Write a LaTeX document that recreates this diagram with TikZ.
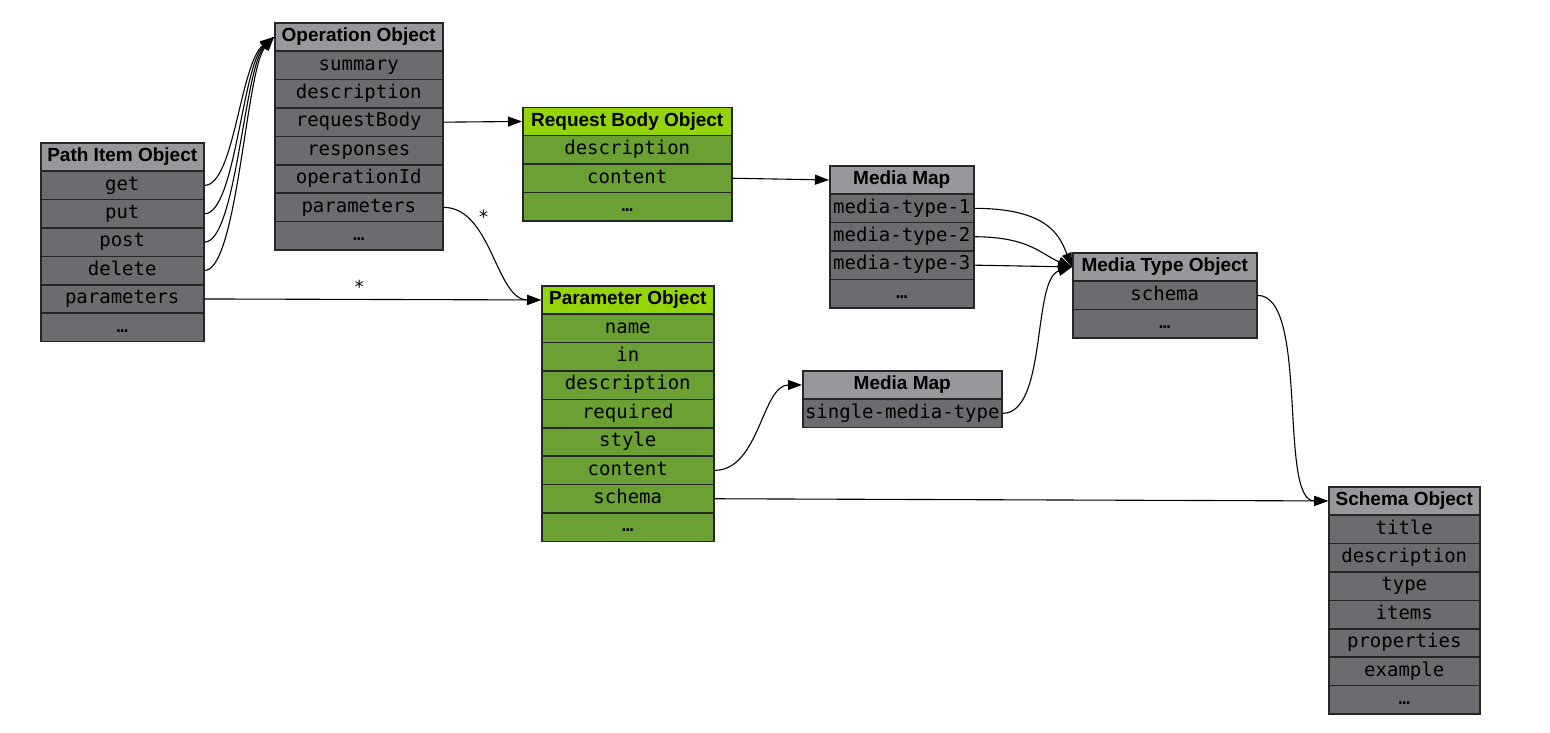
\documentclass[tikz,border=0pt]{standalone}
\usepackage{fontspec}
\setsansfont{Liberation Sans}
\setmonofont{DejaVu Sans Mono}
\usetikzlibrary{arrows.meta,calc}
\definecolor{hgray}{RGB}{152,152,156}
\definecolor{rgray}{RGB}{108,108,112}
\definecolor{hgreen}{RGB}{148,212,10}
\definecolor{rgreen}{RGB}{106,160,52}
\definecolor{bordc}{RGB}{38,38,38}
\tikzset{
  cell/.style={draw=bordc, line width=1.5pt, inner sep=0pt, anchor=north west, minimum height=28.4pt},
  hdr/.style={cell, font=\sffamily\bfseries\fontsize{19}{21}\selectfont, text height=13.5pt, text depth=4pt},
  fld/.style={cell, font=\ttfamily\fontsize{19}{21}\selectfont, text height=14pt, text depth=4.5pt},
  grayhdr/.style={hdr, fill=hgray},
  grayfld/.style={fld, fill=rgray},
  greenhdr/.style={hdr, fill=hgreen},
  greenfld/.style={fld, fill=rgreen},
  conn/.style={line width=1.1pt, draw=black, -{Triangle[length=14pt,width=10pt]}},
  starlbl/.style={font=\ttfamily\fontsize{18}{20}\selectfont, inner sep=0pt, anchor=center}
}
\begin{document}
\begin{tikzpicture}[x=1pt,y=-1pt]
\useasboundingbox (0,0) rectangle (1550,732);
\fill[white] (0,0) rectangle (1550,732);

% Path Item Object
\node[grayhdr, minimum width=163pt] (pi0) at (40,142) {Path Item Object};
\foreach \t [count=\i] in {get,put,post,delete,parameters,…}
  \node[grayfld, minimum width=163pt] (pi\i) at (40,{142+28.4*\i}) {\t};

% Operation Object
\node[grayhdr, minimum width=168pt] (op0) at (274,22) {Operation Object};
\foreach \t [count=\i] in {summary,description,requestBody,responses,operationId,parameters,…}
  \node[grayfld, minimum width=168pt] (op\i) at (274,{22+28.4*\i}) {\t};

% Request Body Object
\node[greenhdr, minimum width=209pt] (rb0) at (522,106.5) {Request Body Object};
\foreach \t [count=\i] in {description,content,…}
  \node[greenfld, minimum width=209pt] (rb\i) at (522,{106.5+28.4*\i}) {\t};

% Media Map (1)
\node[grayhdr, minimum width=144pt] (mm0) at (829,165) {Media Map};
\foreach \t [count=\i] in {media-type-1,media-type-2,media-type-3,…}
  \node[grayfld, minimum width=144pt] (mm\i) at (829,{165+28.4*\i}) {\t};

% Media Type Object
\node[grayhdr, minimum width=184pt] (mt0) at (1072,252) {Media Type Object};
\foreach \t [count=\i] in {schema,…}
  \node[grayfld, minimum width=184pt] (mt\i) at (1072,{252+28.4*\i}) {\t};

% Parameter Object
\node[greenhdr, minimum width=172pt] (pa0) at (541,285) {Parameter Object};
\foreach \t [count=\i] in {name,in,description,required,style,content,schema,…}
  \node[greenfld, minimum width=172pt] (pa\i) at (541,{285+28.4*\i}) {\t};

% Media Map (2)
\node[grayhdr, minimum width=199pt] (ms0) at (802,370) {Media Map};
\node[grayfld, minimum width=199pt] (ms1) at (802,398.4) {single-media-type};

% Schema Object
\node[grayhdr, minimum width=151pt] (so0) at (1328,486) {Schema Object};
\foreach \t [count=\i] in {title,description,type,items,properties,example,…}
  \node[grayfld, minimum width=151pt] (so\i) at (1328,{486+28.4*\i}) {\t};

% Connectors
\draw[conn] (pi1.east) .. controls +(30,0) and +(-34,26) .. (op0.west);
\draw[conn] (pi2.east) .. controls +(31,0) and +(-32,28) .. (op0.west);
\draw[conn] (pi3.east) .. controls +(32,0) and +(-30,30) .. (op0.west);
\draw[conn] (pi4.east) .. controls +(33,0) and +(-28,32) .. (op0.west);
\draw[conn] (pi5.east) -- node[starlbl, pos=0.46, yshift=13pt] {*} (pa0.west);
\draw[conn] (op3.east) -- (rb0.west);
\draw[conn] (op6.east) .. controls +(48,0) and +(-45,0) .. node[starlbl, pos=0, xshift=40pt, yshift=-9pt] {*} (pa0.west);
\draw[conn] (rb2.east) -- (mm0.west);
\draw[conn] (mm1.east) .. controls +(75,0) and +(-12,-30) .. (mt0.west);
\draw[conn] (mm2.east) .. controls +(55,0) and +(-30,-12) .. (mt0.west);
\draw[conn] (mm3.east) -- (mt0.west);
\draw[conn] (pa6.east) .. controls +(45,0) and +(-40,0) .. (ms0.west);
\draw[conn] (ms1.east) .. controls +(45,0) and +(-40,12) .. (mt0.west);
\draw[conn] (mt1.east) .. controls +(52,0) and +(-50,0) .. (so0.west);
\draw[conn] (pa7.east) -- (so0.west);
\end{tikzpicture}
\end{document}
